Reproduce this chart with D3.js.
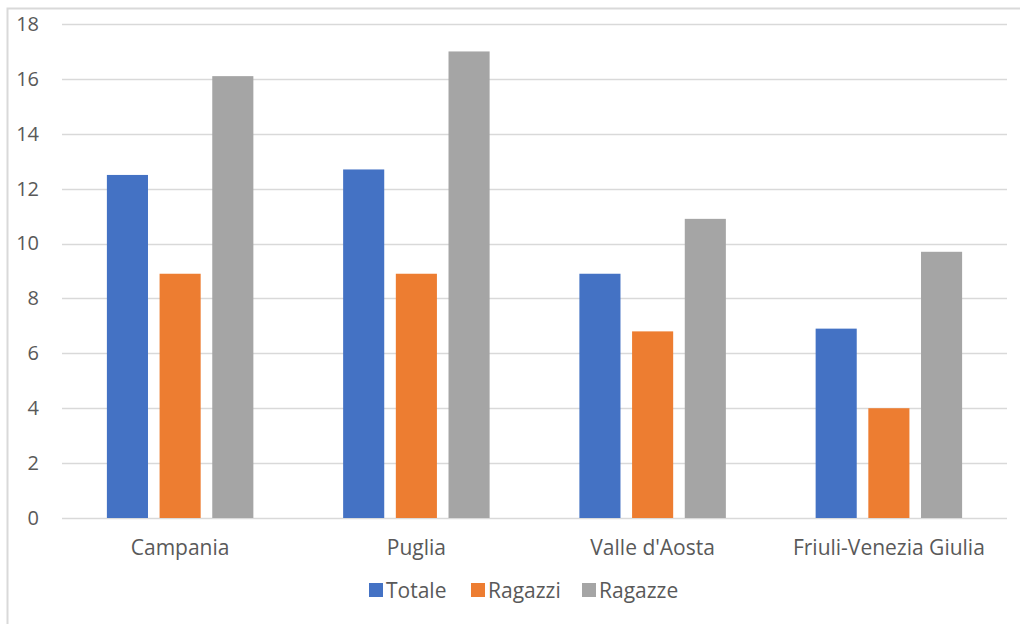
<!DOCTYPE html>
<html>
<head>
<meta charset="utf-8">
<script src="https://cdn.jsdelivr.net/npm/d3@7"></script>
<style>
  body { margin: 0; background: #fff; }
  svg { display: block; font-family: "Open Sans", "Noto Sans", sans-serif; }
</style>
</head>
<body>
<div id="vis-container"></div>
<script>
// data
var regions = ["Campania", "Puglia", "Valle d'Aosta", "Friuli-Venezia Giulia"];
var seriesNames = ["Totale", "Ragazzi", "Ragazze"];
var totale = [12.5, 12.7, 8.9, 6.9];
var ragazzi = [8.9, 8.9, 6.8, 4.0];
var ragazze = [16.1, 17.0, 10.9, 9.7];
var yTicks = [0, 2, 4, 6, 8, 10, 12, 14, 16, 18];
var colors = ["#4472c4", "#ed7d31", "#a5a5a5"];

var width = 1020, height = 624;
var plotLeft = 62, plotRight = 1007, plotTop = 24, plotBottom = 518;

var svg = d3.select("#vis-container").append("svg")
  .attr("width", width)
  .attr("height", height);

// chart frame
svg.append("path")
  .attr("d", "M7.5," + height + "V8.5H" + width)
  .attr("fill", "none")
  .attr("stroke", "#d9d9d9")
  .attr("stroke-width", 2);

var x0 = d3.scaleBand().domain(regions).range([plotLeft, plotRight]).paddingInner(0.38).paddingOuter(0.19);
var x1 = d3.scaleBand().domain(seriesNames).range([0, x0.bandwidth()]).paddingInner(0.22);
var y = d3.scaleLinear().domain([0, 18]).range([plotBottom, plotTop]);

// gridlines
svg.append("g").selectAll("line")
  .data(yTicks)
  .enter()
  .append("line")
  .attr("x1", plotLeft)
  .attr("x2", plotRight)
  .attr("y1", function (d) { return Math.round(y(d)) + 0.5; })
  .attr("y2", function (d) { return Math.round(y(d)) + 0.5; })
  .attr("stroke", "#d9d9d9")
  .attr("stroke-width", 1.5);

// y axis labels
var yAxis = d3.axisLeft(y).tickValues(yTicks).tickSize(0).tickPadding(0);
var gy = svg.append("g").attr("transform", "translate(39,0)").call(yAxis);
gy.select(".domain").remove();
gy.selectAll("text")
  .attr("font-size", 20)
  .attr("fill", "#595959")
  .attr("font-family", "'Open Sans', sans-serif");

var rows = regions.map(function (r, i) {
  return [
    { region: r, name: "Totale", value: totale[i] },
    { region: r, name: "Ragazzi", value: ragazzi[i] },
    { region: r, name: "Ragazze", value: ragazze[i] }
  ];
});

var groups = svg.append("g").selectAll("g")
  .data(rows)
  .enter()
  .append("g")
  .attr("transform", function (d, i) { return "translate(" + x0(regions[i]) + ",0)"; });

groups.selectAll("rect")
  .data(function (d) { return d; })
  .enter()
  .append("rect")
  .attr("x", function (d) { return x1(d.name); })
  .attr("width", x1.bandwidth())
  .attr("y", function (d) { return y(d.value); })
  .attr("height", function (d) { return plotBottom - y(d.value); })
  .attr("fill", function (d, i) { return colors[i]; });

// x axis labels
var xAxis = d3.axisBottom(x0).tickSize(0).tickPadding(0);
var gx = svg.append("g").attr("transform", "translate(0,540)").call(xAxis);
gx.select(".domain").remove();
gx.selectAll("text")
  .attr("font-size", 21)
  .attr("fill", "#595959")
  .attr("font-family", "'Open Sans', sans-serif");

// legend
var legendX = [369, 471, 582];
var legend = svg.append("g").selectAll("g")
  .data(seriesNames)
  .enter()
  .append("g")
  .attr("transform", function (d, i) { return "translate(" + legendX[i] + ",583)"; });

legend.append("rect")
  .attr("width", 14)
  .attr("height", 14)
  .attr("fill", function (d, i) { return colors[i]; });

legend.append("text")
  .attr("x", 17)
  .attr("y", 14.5)
  .attr("font-size", 21)
  .attr("fill", "#595959")
  .text(function (d) { return d; });
</script>
</body>
</html>
